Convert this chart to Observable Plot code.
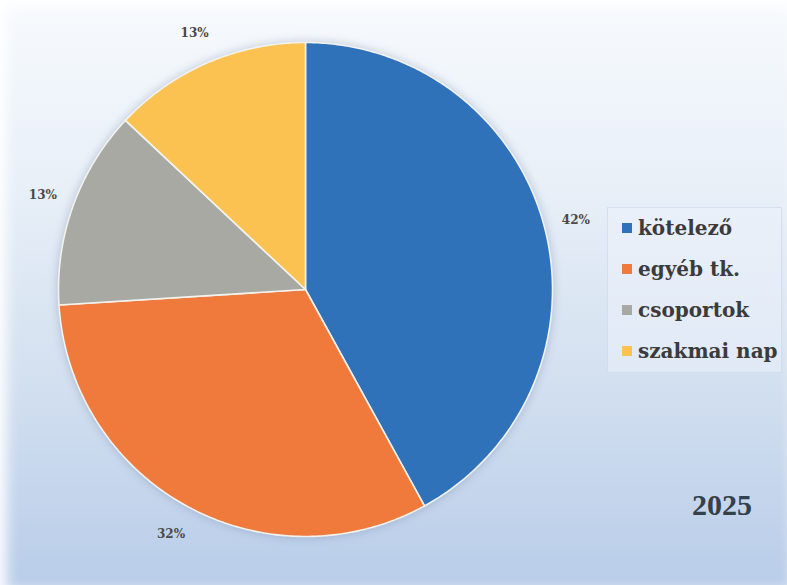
<!DOCTYPE html>
<html><head><meta charset="utf-8">
<script src="https://cdn.jsdelivr.net/npm/d3@7"></script>
<script src="https://cdn.jsdelivr.net/npm/@observablehq/plot@0.6"></script>
<style>
html,body{margin:0;padding:0;}
#wrap{position:relative;width:787px;height:585px;overflow:hidden;
 background:linear-gradient(180deg,#f7fafd 0%,#e9f0f8 30%,#d3e0f0 65%,#b9cde9 100%);
 box-shadow: inset 6px 6px 14px #ffffff;}
#legend{position:absolute;left:607px;top:207px;width:175px;height:166px;
 background:rgba(240,245,252,0.45);border:1px solid rgba(200,212,230,0.6);box-sizing:border-box;
 font-family:"DejaVu Serif",serif;font-weight:bold;color:#3b3b3b;}
.item{position:absolute;left:14px;display:flex;align-items:center;font-size:20px;white-space:nowrap;}
.sw{width:10px;height:10px;margin-right:6px;}
#year{position:absolute;left:692px;top:488px;font-family:"Liberation Serif",serif;font-weight:bold;font-size:30px;color:#34404a;}
svg{position:absolute;left:0;top:0;}
svg g[aria-label="line"]{filter:drop-shadow(0 0 5px rgba(90,110,150,0.35));}
</style></head>
<body><div id="wrap"></div>
<script>
const categories = ["kötelező", "egyéb tk.", "csoportok", "szakmai nap"];
const values = [42, 32, 13, 13];
const labels = ["42%", "32%", "13%", "13%"];
const colors = ["#2f72b9", "#ef7a3c", "#a9a9a4", "#fcc251"];

const W = 787, H = 585, cx = 305, cy = 289, R = 247;
const total = d3.sum(values);
let acc = 0;
const slices = values.map((v, i) => {
  const a0 = acc / total * 2 * Math.PI; acc += v;
  const a1 = acc / total * 2 * Math.PI;
  return {cat: categories[i], label: labels[i], a0, a1};
});
const poly = [];
slices.forEach(s => {
  poly.push({cat: s.cat, x: 0, y: 0});
  const n = Math.max(8, Math.ceil((s.a1 - s.a0) / 0.01));
  for (let k = 0; k <= n; k++) {
    const a = s.a0 + (s.a1 - s.a0) * k / n;
    poly.push({cat: s.cat, x: Math.sin(a), y: -Math.cos(a)});
  }
});
const lab = slices.map(s => {
  const a = (s.a0 + s.a1) / 2, f = 1.13;
  return {label: s.label, x: f * Math.sin(a), y: -f * Math.cos(a)};
});

const chart = Plot.plot({
  width: W, height: H, margin: 0,
  style: {background: "transparent", overflow: "visible"},
  x: {domain: [-cx / R, (W - cx) / R], axis: null},
  y: {domain: [(H - cy) / R, -cy / R], axis: null},
  color: {domain: categories, range: colors},
  marks: [
    Plot.line(poly, {x: "x", y: "y", z: "cat", fill: "cat", stroke: "#f2f2ee", strokeWidth: 1.6, curve: "linear-closed"}),
    Plot.text(lab, {x: "x", y: "y", text: "label", fontFamily: "DejaVu Serif", fontWeight: "bold", fontSize: 12, fill: "#4a4a4a"})
  ]
});
const wrap = document.getElementById("wrap");
wrap.appendChild(chart);

const leg = document.createElement("div"); leg.id = "legend";
categories.forEach((c, i) => {
  const it = document.createElement("div"); it.className = "item";
  it.style.top = (8 + i * 41) + "px";
  it.innerHTML = `<span class="sw" style="background:${colors[i]}"></span><span>${c}</span>`;
  leg.appendChild(it);
});
wrap.appendChild(leg);
const yr = document.createElement("div"); yr.id = "year"; yr.textContent = "2025";
wrap.appendChild(yr);
</script></body></html>
